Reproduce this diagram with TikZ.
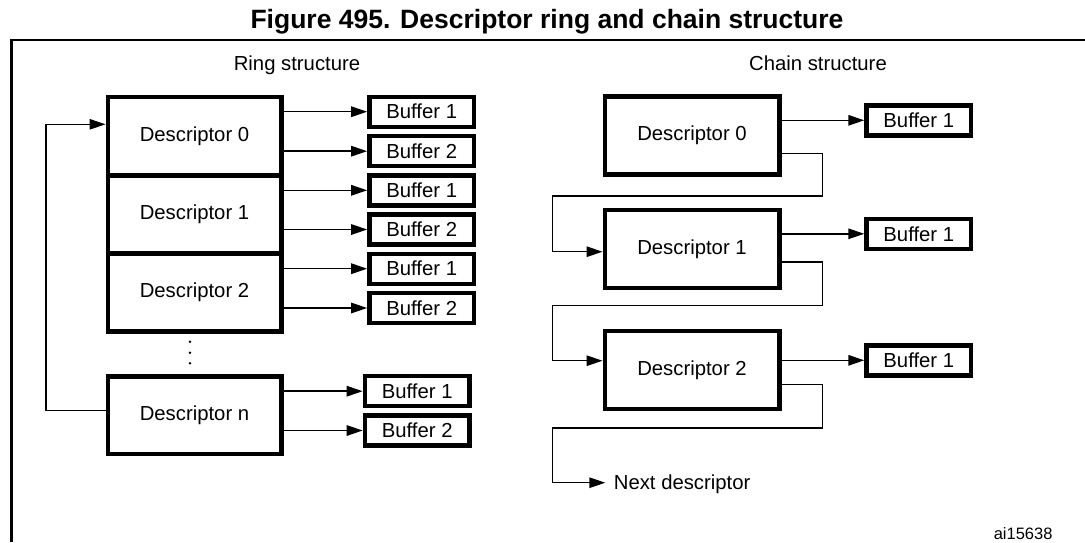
\documentclass[tikz,border=0pt]{standalone}
\usepackage{fontspec}
\setmainfont{Liberation Sans}
\usetikzlibrary{arrows.meta}
\begin{document}
\begin{tikzpicture}[x=1pt,y=-1pt,
  txt/.style={font=\fontsize{20.3}{24}\selectfont},
  desc/.style={draw,line width=4.4pt,minimum width=173.6pt,minimum height=78pt,inner sep=0pt,txt},
  cdesc/.style={draw,line width=4.4pt,minimum width=174.6pt,minimum height=78pt,inner sep=0pt,txt},
  buf/.style={draw,line width=4.4pt,minimum width=104.7pt,minimum height=30pt,inner sep=0pt,txt},
  arr/.style={line width=1.5pt,-{Triangle[length=16pt,width=10.5pt]}},
  lbl/.style={txt,anchor=base,inner sep=0pt}]
\useasboundingbox (0,0) rectangle (1085,542);
% title and frame
\node[font=\fontsize{26.5}{30}\selectfont\bfseries,anchor=base,inner sep=0pt] (title) at (547,28.3) {Figure 495. Descriptor ring and chain structure};
\draw[line width=2.5pt] (11.7,542) -- (11.7,40) -- (1085,40);
% labels
\node[lbl] (ringlbl) at (297,70.5) {Ring structure};
\node[lbl] (chainlbl) at (818,70.5) {Chain structure};
\node[font=\fontsize{16.5}{20}\selectfont,anchor=base east,inner sep=0pt] (id) at (1052.7,539) {ai15638};
% ring descriptors
\node[desc] (d0) at (194.5,136) {Descriptor 0};
\node[desc] (d1) at (194.5,214.3) {Descriptor 1};
\node[desc] (d2) at (194.5,292.5) {Descriptor 2};
\node[desc,minimum height=77.7pt] (dn) at (194.5,415.2) {Descriptor n};
\fill (190,341.7) circle (1.4) (190,352.7) circle (1.4) (190,363.3) circle (1.4);
% ring buffers
\node[buf] (b01) at (421.7,111.7) {Buffer 1};
\node[buf] (b02) at (421.7,151.2) {Buffer 2};
\node[buf] (b11) at (421.7,190.3) {Buffer 1};
\node[buf] (b12) at (421.7,229.5) {Buffer 2};
\node[buf] (b21) at (421.7,268.7) {Buffer 1};
\node[buf] (b22) at (421.7,308) {Buffer 2};
\node[buf] (bn1) at (417.2,391.2) {Buffer 1};
\node[buf] (bn2) at (417.2,430.5) {Buffer 2};
\foreach \d/\b in {d0/b01,d0/b02,d1/b11,d1/b12,d2/b21,d2/b22,dn/bn1,dn/bn2}
  \draw[arr] (\d.east |- \b.west) -- (\b.west);
\draw[arr,line width=1.2pt] (dn.west |- 0,410.7) -- (46,410.7) -- (46,124.3) -- (d0.west |- 0,124.3);
% chain descriptors
\node[cdesc] (c0) at (692,135.5) {Descriptor 0};
\node[cdesc] (c1) at (692,248.8) {Descriptor 1};
\node[cdesc] (c2) at (692,370) {Descriptor 2};
\node[buf] (cb0) at (918.8,120.3) {Buffer 1};
\node[buf] (cb1) at (918.8,233.8) {Buffer 1};
\node[buf] (cb2) at (918.8,360.3) {Buffer 1};
\foreach \d/\b in {c0/cb0,c1/cb1,c2/cb2}
  \draw[arr] (\d.east |- \b.west) -- (\b.west);
\draw[arr,line width=1.4pt] (c0.east |- 0,153.3) -- (822.7,153.3) -- (822.7,196) -- (552.3,196) -- (552.3,251.7) -- (c1.west |- 0,251.7);
\draw[arr,line width=1.4pt] (c1.east |- 0,262) -- (822.7,262) -- (822.7,305.7) -- (552.3,305.7) -- (552.3,360.7) -- (c2.west |- 0,360.7);
\node[txt,anchor=base west,inner sep=0pt] (nd) at (613.7,489) {Next descriptor};
\coordinate (ndtip) at (605.3,482.7);
\draw[arr,line width=1.4pt] (c2.east |- 0,384.3) -- (822.7,384.3) -- (822.7,428) -- (552.3,428) -- (552.3,482.7) -- (ndtip);
\end{tikzpicture}
\end{document}
